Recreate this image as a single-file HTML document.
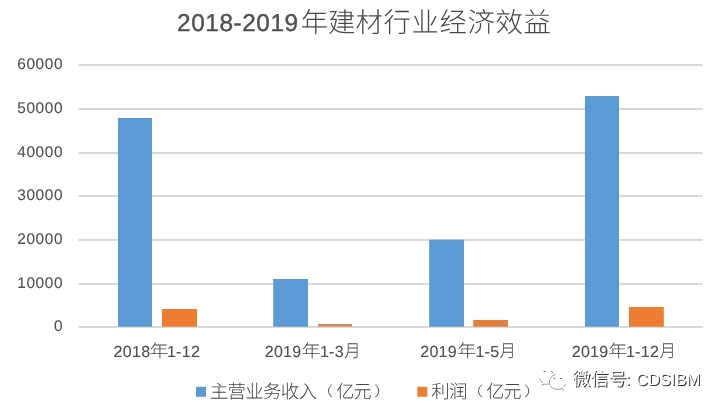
<!DOCTYPE html>
<html lang="zh-CN">
<head>
<meta charset="utf-8">
<title>2018-2019年建材行业经济效益</title>
<style>
html,body{margin:0;padding:0;background:#fff;}
body{width:706px;height:411px;overflow:hidden;position:relative;}
svg{position:absolute;left:0;top:0;display:block;}
text{fill:#505050;text-rendering:geometricPrecision;}
.num{font-family:"Liberation Sans","Noto Sans CJK SC",sans-serif;}
.cjk{font-family:"Liberation Sans","Noto Sans CJK SC",sans-serif;font-weight:300;fill:#484848;}
.wm text{font-family:"Liberation Sans","Noto Sans CJK SC",sans-serif;fill:#fff;stroke:none;filter:drop-shadow(1px 1px 0px #333);}
.xd{font-size:16px;letter-spacing:0.3px;stroke:#505050;stroke-width:0.12px;}
.xc{font-size:17.6px;letter-spacing:0;stroke:none;}
.lg{font-weight:300;fill:#444;}
.pr{font-size:13.5px;letter-spacing:0;}
</style>
</head>
<body>
<svg width="706" height="411" viewBox="0 0 706 411">
  <rect x="0" y="0" width="706" height="411" fill="#ffffff"/>
  <!-- gridlines -->
  <g fill="#d6d6d6">
    <rect x="78.6" y="64" width="624" height="1.9"/>
    <rect x="78.6" y="108" width="624" height="1.9"/>
    <rect x="78.6" y="152" width="624" height="1.9"/>
    <rect x="78.6" y="195" width="624" height="1.9"/>
    <rect x="78.6" y="239" width="624" height="1.9"/>
    <rect x="78.6" y="283" width="624" height="1.9"/>
    <rect x="78.6" y="326" width="624" height="1.9"/>
  </g>
  <!-- bars -->
  <g fill="#5b9bd5">
    <rect x="118" y="118" width="34" height="208.7"/>
    <rect x="273.2" y="279" width="34.8" height="47.7"/>
    <rect x="429.2" y="239.7" width="34.8" height="87"/>
    <rect x="585" y="96" width="34" height="230.7"/>
  </g>
  <g fill="#ed7d31">
    <rect x="162" y="309" width="35" height="17.7"/>
    <rect x="318" y="324" width="34" height="2.7" fill="#d68a5e"/>
    <rect x="473.2" y="320" width="34.8" height="6.7" fill="#e27f3c"/>
    <rect x="629" y="307" width="34.8" height="19.7"/>
  </g>
  <!-- y axis labels -->
  <g class="num" font-size="15.4" text-anchor="end" letter-spacing="0.6" stroke="#505050" stroke-width="0.12">
    <text x="63.1" y="69.4">60000</text>
    <text x="63.1" y="113.4">50000</text>
    <text x="63.1" y="157.4">40000</text>
    <text x="63.1" y="200.4">30000</text>
    <text x="63.1" y="244.4">20000</text>
    <text x="63.1" y="288.4">10000</text>
    <text x="63.1" y="331.4">0</text>
  </g>
  <!-- x axis labels -->
  <g class="num xd">
    <text x="113.6" y="357">2018<tspan class="cjk xc" x="149.6" dy="-0.4" textLength="19.0" lengthAdjust="spacingAndGlyphs">年</tspan><tspan x="166.9" dy="0.4">1-12</tspan></text>
    <text x="264.7" y="357">2019<tspan class="cjk xc" x="301.7" dy="-0.4" textLength="19.0" lengthAdjust="spacingAndGlyphs">年</tspan><tspan x="319.9" dy="0.4">1-3</tspan><tspan class="cjk xc" x="344.3" dy="-0.4" textLength="16.4" lengthAdjust="spacingAndGlyphs">月</tspan></text>
    <text x="420.2" y="357">2019<tspan class="cjk xc" x="457.2" dy="-0.4" textLength="19.0" lengthAdjust="spacingAndGlyphs">年</tspan><tspan x="475.4" dy="0.4">1-5</tspan><tspan class="cjk xc" x="499.6" dy="-0.4" textLength="16.4" lengthAdjust="spacingAndGlyphs">月</tspan></text>
    <text x="571.7" y="357">2019<tspan class="cjk xc" x="608.3" dy="-0.4" textLength="19.0" lengthAdjust="spacingAndGlyphs">年</tspan><tspan x="625.9" dy="0.4">1-12</tspan><tspan class="cjk xc" x="659.5" dy="-0.4" textLength="16.4" lengthAdjust="spacingAndGlyphs">月</tspan></text>
  </g>
  <!-- title -->
  <text class="num" x="177.1" y="30.9" font-size="24.4" letter-spacing="0.55" stroke="#505050" stroke-width="0.4">2018-2019<tspan class="cjk" font-size="27.4" letter-spacing="0.6" dx="2.1" dy="0.9" stroke="none">年<tspan dx="-0.7">建</tspan><tspan dx="-0.5">材行业经济效益</tspan></tspan></text>
  <!-- legend -->
  <rect x="196" y="386.8" width="10" height="10" fill="#5b9bd5"/>
  <text class="cjk lg" x="209.7" y="398.2" font-size="18.5" letter-spacing="-0.75">主营业务收入<tspan class="pr" x="315.2" dy="-1.9" textLength="18" lengthAdjust="spacingAndGlyphs">（</tspan><tspan x="336.2" dy="1.9" textLength="34.6" lengthAdjust="spacingAndGlyphs">亿元</tspan><tspan class="pr" x="374.0" dy="-1.9" textLength="18" lengthAdjust="spacingAndGlyphs">）</tspan></text>
  <rect x="417.3" y="386.8" width="10" height="10" fill="#ed7d31"/>
  <text class="cjk lg" x="431.2" y="398.2" font-size="18.5" letter-spacing="-0.75">利润<tspan class="pr" x="465.3" dy="-1.9" textLength="18" lengthAdjust="spacingAndGlyphs">（</tspan><tspan x="486.3" dy="1.9" textLength="34.6" lengthAdjust="spacingAndGlyphs">亿元</tspan><tspan class="pr" x="524.1" dy="-1.9" textLength="18" lengthAdjust="spacingAndGlyphs">）</tspan></text>
  <!-- watermark -->
  <g fill="none" stroke="#606060" stroke-width="0.65" stroke-linecap="round" stroke-dasharray="2.2 0.9">
    <path d="M555.2 374.6 C551.5 375.6 549.4 379 549.5 382.6 C549.6 386.2 552.4 389 557 389.3 C559.6 389.4 561.8 388.8 563 387.6 M564.4 386.2 L565.2 384.8 M562.6 389.8 L563.6 390.3"/>
    <path d="M539.5 378.6 C540.2 380.4 541.4 381.8 542.8 382.8 M542 385.2 L544.2 384.2 C545.8 384.4 547.4 384.3 548.6 384"/>
    <path d="M544 371.4 L545 371.5 M551.6 371.6 L552.8 372.4 M554 378.4 L554.8 378.5 M560.4 378.4 L561.4 378.5" stroke-width="1"/>
  </g>
  <g class="wm">
    <text x="572.5" y="385.2" font-size="18">微信号<tspan font-size="16.5" dx="-0.8">:</tspan><tspan font-size="16.5" dx="1.1"> CDSIBM</tspan></text>
  </g>
</svg>
</body>
</html>
